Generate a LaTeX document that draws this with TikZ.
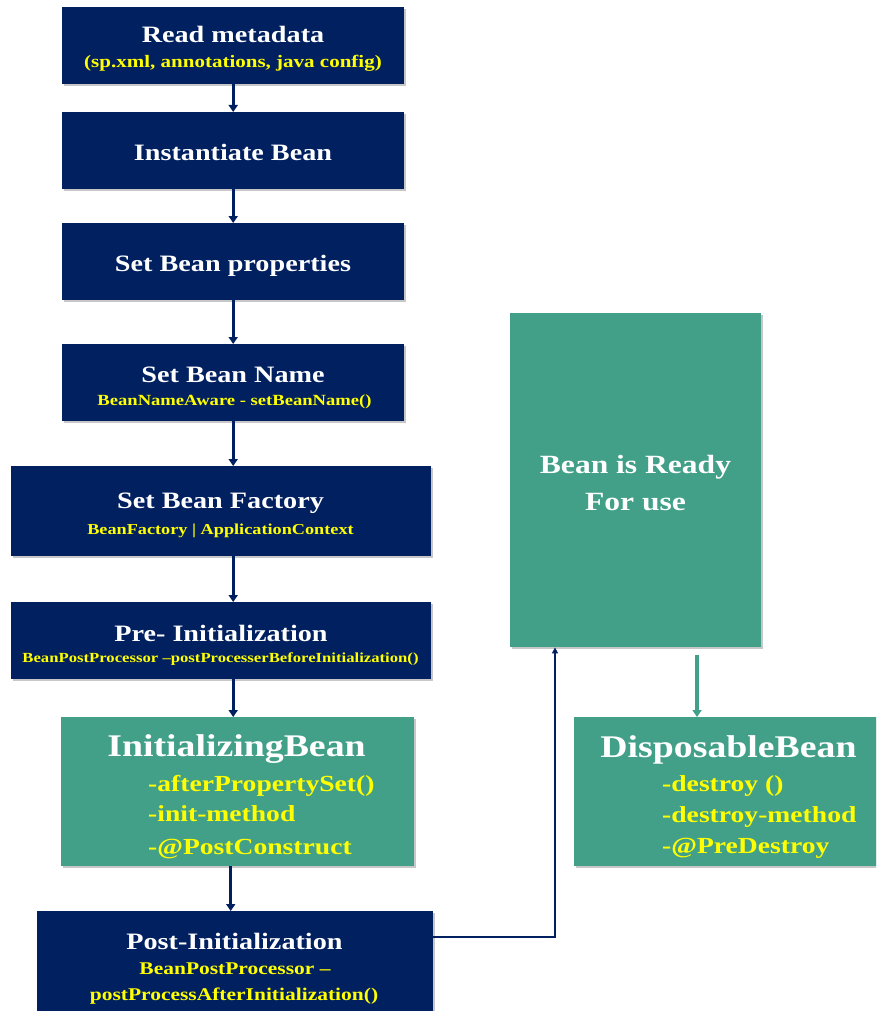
\documentclass[tikz,border=0pt]{standalone}
\usepackage{fontspec}
\setmainfont{Liberation Serif}[FakeStretch=1.2]
\usetikzlibrary{arrows.meta,shadows}

\definecolor{navy}{RGB}{0,32,96}
\definecolor{teal}{RGB}{66,160,137}
\definecolor{hilite}{RGB}{255,255,0}

\tikzset{
  box/.style={rectangle, inner sep=0pt, anchor=north west,
    drop shadow={shadow xshift=2pt, shadow yshift=-2pt, opacity=0.22, fill=black}},
  navybox/.style={box, fill=navy},
  tealbox/.style={box, fill=teal},
  ttl/.style={anchor=base, text=white, font=\bfseries\fontsize{23.5}{26}\selectfont, inner sep=0pt},
  sub/.style={anchor=base, text=hilite, font=\bfseries\fontsize{#1}{#1}\selectfont, inner sep=0pt},
  bigttl/.style={anchor=base, text=white, font=\bfseries\fontsize{31.5}{34}\selectfont, inner sep=0pt},
  item/.style={anchor=base west, text=hilite, font=\bfseries\fontsize{23}{25}\selectfont, inner sep=0pt},
  readyttl/.style={anchor=base, text=white, font=\bfseries\fontsize{26.3}{28}\selectfont, inner sep=0pt},
  flow/.style={draw=navy, line width=3pt, -{Triangle[length=7pt,width=9pt]}},
  back/.style={draw=navy, line width=2pt, -{Triangle[length=6pt,width=6pt]}},
  green/.style={draw=teal, line width=3.2pt, -{Triangle[length=7pt,width=9pt]}},
}

\begin{document}
\begin{tikzpicture}[x=1pt, y=-1pt]
\useasboundingbox (0,0) rectangle (876,1011);
\clip (0,0) rectangle (876,1011);

% lifecycle steps
\node[navybox, minimum width=342pt, minimum height=77pt] (b1) at (62,7) {};
\node[navybox, minimum width=342pt, minimum height=77pt] (b2) at (62,112) {};
\node[navybox, minimum width=342pt, minimum height=77pt] (b3) at (62,223) {};
\node[navybox, minimum width=342pt, minimum height=77pt] (b4) at (62,344) {};
\node[navybox, minimum width=420pt, minimum height=90pt] (b5) at (11,466) {};
\node[navybox, minimum width=420pt, minimum height=77pt] (b6) at (11,602) {};
\node[tealbox, minimum width=353pt, minimum height=149pt] (b7) at (61,717) {};
\node[navybox, minimum width=396pt, minimum height=120pt] (b8) at (37,911) {};
\node[tealbox, minimum width=251pt, minimum height=334pt] (rd) at (510,313) {};
\node[tealbox, minimum width=310pt, minimum height=149pt] (ds) at (574,717) {};

% texts
\node[ttl] (t1) at (233,43) {Read metadata};
\node[sub=17.5] (s1) at (233,68) {(sp.xml, annotations, java config)};
\node[ttl] (t2) at (233,161) {Instantiate Bean};
\node[ttl] (t3) at (233,271.5) {Set Bean properties};
\node[ttl] (t4) at (233,382.3) {Set Bean Name};
\node[sub=15.5] (s4) at (234.5,405) {BeanNameAware - setBeanName()};
\node[ttl] (t5) at (220.5,508.3) {Set Bean Factory};
\node[sub=15.2] (s5) at (220.5,534) {BeanFactory | ApplicationContext};
\node[ttl] (t6) at (221,641.7) {Pre- Initialization};
\node[sub=13.9] (s6) at (220.5,662.7) {BeanPostProcessor –postProcesserBeforeInitialization()};

\node[bigttl] (t7) at (236.5,756.7) {InitializingBean};
\node[item] (i71) at (148,791.7) {-afterPropertySet()};
\node[item] (i72) at (148,821.7) {-init-method};
\node[item] (i73) at (148,854) {-@PostConstruct};

\node[ttl] (t8) at (234.5,949.3) {Post-Initialization};
\node[sub=17.9] (s81) at (235,974) {BeanPostProcessor –};
\node[sub=17.9] (s82) at (234,1000) {postProcessAfterInitialization()};

\node[readyttl] (tr1) at (635.5,473.3) {Bean is Ready};
\node[readyttl] (tr2) at (635.5,510.7) {For use};

\node[bigttl] (td) at (728.5,757.3) {DisposableBean};
\node[item] (id1) at (662,791.7) {-destroy ()};
\node[item] (id2) at (662,822.3) {-destroy-method};
\node[item] (id3) at (662,853.3) {-@PreDestroy};

% connectors
\draw[flow] (b1.south) -- (b2.north);
\draw[flow] (b2.south) -- (b3.north);
\draw[flow] (b3.south) -- (b4.north);
\draw[flow] (b4.south) -- (b4.south |- b5.north);
\draw[flow] (b4.south |- b5.south) -- (b4.south |- b6.north);
\draw[flow] (b4.south |- b6.south) -- (b4.south |- b7.north);
\draw[flow] ([xshift=-7pt]b7.south) -- ([xshift=-7pt]b7.south |- b8.north);
\draw[back] ([yshift=-26pt]b8.north east) -| ([xshift=45pt]rd.south west);
\draw[green, shorten <=8pt] ([xshift=187pt]rd.south west) -- ([xshift=187pt]rd.south west |- ds.north);
\end{tikzpicture}
\end{document}
